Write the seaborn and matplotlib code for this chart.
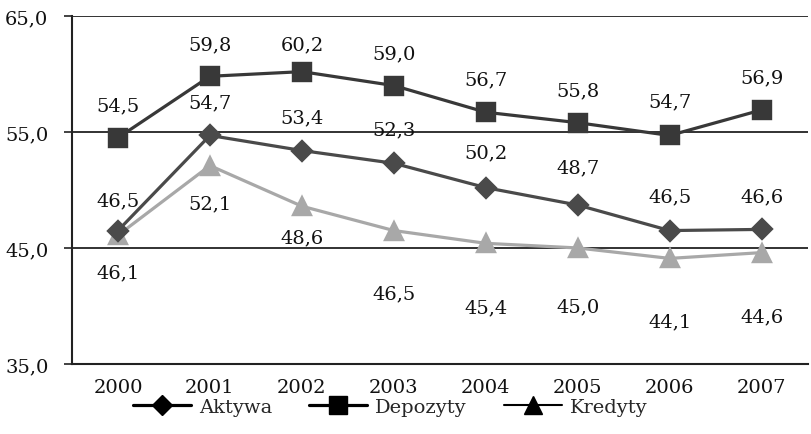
import numpy as np
import pandas as pd
import matplotlib
matplotlib.use("Agg")
import matplotlib.pyplot as plt
from matplotlib.lines import Line2D
import seaborn as sns

years = ["2000", "2001", "2002", "2003", "2004", "2005", "2006", "2007"]
aktywa = [46.5, 54.7, 53.4, 52.3, 50.2, 48.7, 46.5, 46.6]
depozyty = [54.5, 59.8, 60.2, 59.0, 56.7, 55.8, 54.7, 56.9]
kredyty = [46.1, 52.1, 48.6, 46.5, 45.4, 45.0, 44.1, 44.6]
series_names = ["Aktywa", "Depozyty", "Kredyty"]
y_ticks = [35, 45, 55, 65]

sns.set_theme(style="white")
plt.rcParams["font.family"] = ["DejaVu Serif", "Liberation Serif"]

fig = plt.figure(figsize=(8.11, 4.35), dpi=100)
ax = fig.add_axes([0.0888, 0.161, 0.907, 0.800])

styles = {
    "Kredyty": dict(color="#a8a8a8", marker="^", ms=13, offs=[-37, -38, -31, -63, -64, -58, -63, -64]),
    "Aktywa": dict(color="#4a4a4a", marker="D", ms=10, offs=[30, 33, 33, 34, 35, 38, 34, 33]),
    "Depozyty": dict(color="#383838", marker="s", ms=13.5, offs=[32, 32, 27, 32, 33, 32, 34, 33]),
}
data = {"Aktywa": aktywa, "Depozyty": depozyty, "Kredyty": kredyty}

for name in ["Kredyty", "Aktywa", "Depozyty"]:
    st = styles[name]
    df = pd.DataFrame({"year": years, "value": data[name]})
    sns.pointplot(data=df, x="year", y="value", color=st["color"], marker=st["marker"],
                  markersize=st["ms"], linewidth=2.3, ax=ax, errorbar=None, zorder=3)
    for i, (v, o) in enumerate(zip(data[name], st["offs"])):
        ax.annotate(f"{v:.1f}".replace(".", ","), (i, v), xytext=(0, o),
                    textcoords="offset pixels", ha="center", va="center",
                    fontsize=14, color="#111111", zorder=5)

ax.set_ylim(35, 65)
ax.set_xlim(-0.5, 7.5)
ax.set_yticks(y_ticks)
ax.set_yticklabels([f"{t:.1f}".replace(".", ",") for t in y_ticks], fontsize=14, color="#111111")
ax.set_xticks(range(len(years)))
ax.set_xticklabels(years, fontsize=14, color="#111111")
ax.set_xticks(np.arange(-0.5, len(years), 1), minor=True)
ax.tick_params(axis="x", which="major", length=0, pad=10)
ax.tick_params(axis="x", which="minor", length=6, width=1.2, direction="out", color="#222222")
ax.tick_params(axis="y", length=6, width=1.2, direction="out", color="#222222", left=True, pad=11)
ax.set_xlabel("")
ax.set_ylabel("")
ax.yaxis.grid(True, color="#222222", linewidth=1.3)
ax.set_axisbelow(True)
for s in ["top", "right"]:
    ax.spines[s].set_visible(False)
for s in ["left", "bottom"]:
    ax.spines[s].set_color("#222222")
    ax.spines[s].set_linewidth(1.5)

handles = [
    Line2D([], [], color="black", marker="D", ms=10, lw=2.3),
    Line2D([], [], color="black", marker="s", ms=13.5, lw=2.3),
    Line2D([], [], color="black", marker="^", ms=13, lw=1.5),
]
fig.legend(handles, series_names, loc="center", bbox_to_anchor=(0.481, 0.062), ncol=3,
           frameon=False, fontsize=14, handlelength=3.0, columnspacing=1.9, handletextpad=0.4)

fig.savefig("out.png", dpi=100)
